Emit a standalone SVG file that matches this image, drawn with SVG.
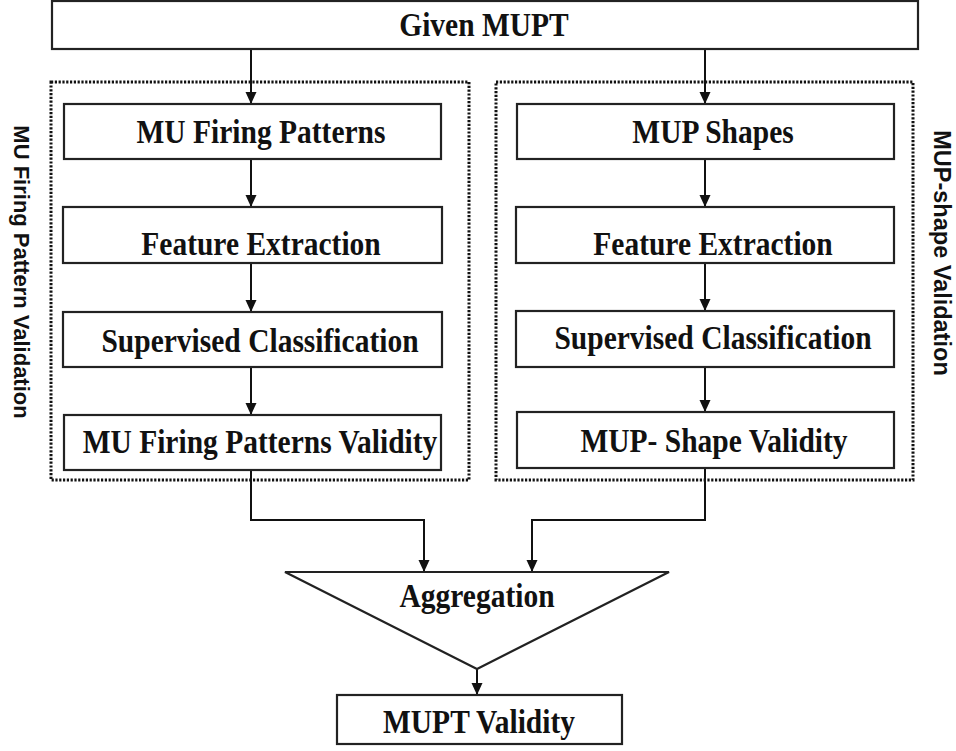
<svg xmlns="http://www.w3.org/2000/svg" width="956" height="751" viewBox="0 0 956 751">
<style>
.box{fill:#fff;stroke:#222;stroke-width:2.2}
.grp{fill:none;stroke:#111;stroke-width:3;stroke-dasharray:2.2 1.6}
.t{font-family:"Liberation Serif","Times New Roman",serif;font-weight:bold;font-size:29.5px;fill:#111;text-anchor:middle}
.s{font-family:"Liberation Sans",Arial,sans-serif;font-weight:bold;font-size:22px;fill:#111;text-anchor:middle}
.c{fill:none;stroke:#111;stroke-width:2}
</style>
<defs>
<marker id="ah" markerUnits="userSpaceOnUse" markerWidth="12" markerHeight="12" refX="12" refY="5.5" orient="auto">
<path d="M0,0 L12,5.5 L0,11 z" fill="#111"/>
</marker>
</defs>
<rect width="956" height="751" fill="#fff"/>
<g id="groups">
<rect class="grp" x="51" y="82" width="418" height="398"/>
<rect class="grp" x="496" y="82" width="417" height="398"/>
<text class="s" transform="translate(14,272) rotate(90)">MU Firing Pattern Validation</text>
<text class="s" style="font-size:23.5px" transform="translate(934,253) rotate(90)">MUP-shape Validation</text>
</g>
<g id="connectors">
<line class="c" x1="251" y1="49" x2="251" y2="104" marker-end="url(#ah)"/>
<line class="c" x1="705" y1="49" x2="705" y2="104" marker-end="url(#ah)"/>
<line class="c" x1="251" y1="159" x2="251" y2="207" marker-end="url(#ah)"/>
<line class="c" x1="251" y1="263" x2="251" y2="312" marker-end="url(#ah)"/>
<line class="c" x1="251" y1="367" x2="251" y2="415" marker-end="url(#ah)"/>
<line class="c" x1="705" y1="159" x2="705" y2="207" marker-end="url(#ah)"/>
<line class="c" x1="705" y1="263" x2="705" y2="311" marker-end="url(#ah)"/>
<line class="c" x1="705" y1="367" x2="705" y2="412" marker-end="url(#ah)"/>
<polyline class="c" points="251,470 251,520 424,520 424,572" marker-end="url(#ah)"/>
<polyline class="c" points="705,468 705,520 532,520 532,572" marker-end="url(#ah)"/>
<line class="c" x1="477" y1="669" x2="477" y2="695" marker-end="url(#ah)"/>
</g>
<g id="given">
<rect class="box" x="52" y="1" width="866" height="48"/>
<text class="t" transform="translate(484,36) scale(1,1.12)">Given MUPT</text>
</g>
<g id="mu-firing">
<rect class="box" x="64" y="104" width="377" height="55"/>
<text class="t" transform="translate(261,143) scale(1,1.12)">MU Firing Patterns</text>
</g>
<g id="feat-left">
<rect class="box" x="63" y="207" width="379" height="56"/>
<text class="t" transform="translate(261,255) scale(1,1.12)">Feature Extraction</text>
</g>
<g id="class-left">
<rect class="box" x="63" y="312" width="379" height="55"/>
<text class="t" transform="translate(260,352) scale(1,1.12)">Supervised Classification</text>
</g>
<g id="valid-left">
<rect class="box" x="64" y="415" width="377" height="55"/>
<text class="t" transform="translate(260,453) scale(1,1.12)">MU Firing Patterns Validity</text>
</g>
<g id="mup-shapes">
<rect class="box" x="517" y="104" width="377" height="55"/>
<text class="t" transform="translate(713,143) scale(1,1.12)">MUP Shapes</text>
</g>
<g id="feat-right">
<rect class="box" x="516" y="207" width="378" height="56"/>
<text class="t" transform="translate(713,255) scale(1,1.12)">Feature Extraction</text>
</g>
<g id="class-right">
<rect class="box" x="516" y="311" width="378" height="56"/>
<text class="t" transform="translate(713,349) scale(1,1.12)">Supervised Classification</text>
</g>
<g id="valid-right">
<rect class="box" x="517" y="412" width="377" height="56"/>
<text class="t" transform="translate(714,452) scale(1,1.12)">MUP- Shape Validity</text>
</g>
<g id="aggregation">
<polygon class="box" points="285,572 669,572 477,669"/>
<text class="t" transform="translate(477,607) scale(1,1.12)">Aggregation</text>
</g>
<g id="mupt-validity">
<rect class="box" x="337" y="695" width="285" height="49"/>
<text class="t" transform="translate(479,733) scale(1,1.12)">MUPT Validity</text>
</g>
</svg>
